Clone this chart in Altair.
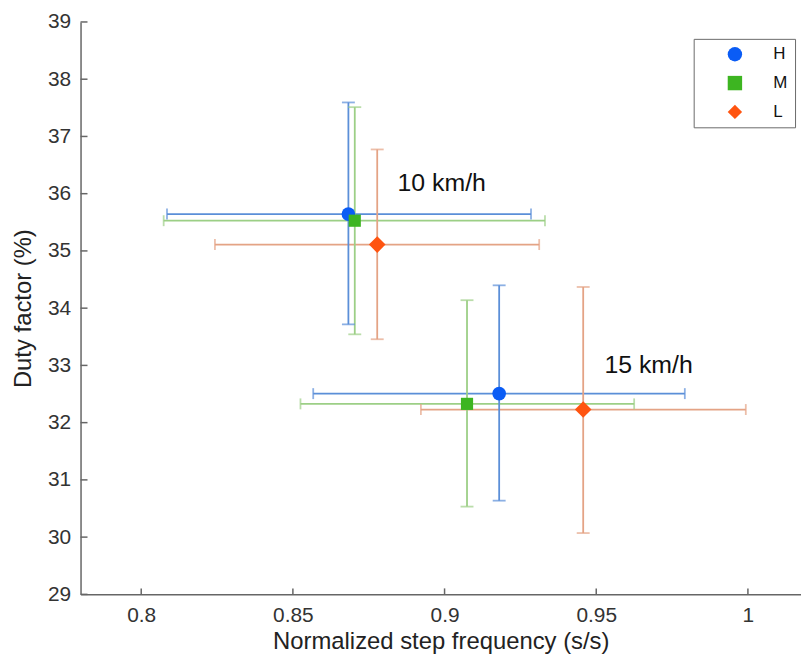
import altair as alt
import pandas as pd

# ---- data ----
groups = ["H", "M", "L", "H", "M", "L"]
x_mean = [0.8683, 0.8704, 0.8778, 0.9180, 0.9074, 0.9457]
x_low = [0.8085, 0.8074, 0.8243, 0.8567, 0.8525, 0.8922]
x_high = [0.9285, 0.9331, 0.9312, 0.9792, 0.9625, 0.9993]
y_mean = [35.644, 35.528, 35.111, 32.507, 32.328, 32.229]
y_low = [33.717, 33.543, 33.457, 30.637, 30.533, 30.071]
y_high = [37.594, 37.512, 36.773, 34.399, 34.139, 34.370]

group_order = ["H", "M", "L"]
marker_colors = ["#0a5cf5", "#3db521", "#ff5410"]
bar_colors = ["#5b8fd8", "#9ccf86", "#e4a385"]
shapes = ["circle", "square", "diamond"]
marker_sizes = [190, 150, 280]

annot_text = ["10 km/h", "15 km/h"]
annot_x = [0.8845, 0.9527]
annot_y = [36.19, 33.01]

x_ticks = [0.8, 0.85, 0.9, 0.95, 1.0]
y_ticks = [29, 30, 31, 32, 33, 34, 35, 36, 37, 38, 39]

# ---- tables ----
df = pd.DataFrame({
    "group": groups, "x": x_mean, "xlo": x_low, "xhi": x_high,
    "y": y_mean, "ylo": y_low, "yhi": y_high,
})
df["barcolor"] = df["group"].map(dict(zip(group_order, bar_colors)))
df["msize"] = df["group"].map(dict(zip(group_order, marker_sizes)))
ann = pd.DataFrame({"t": annot_text, "x": annot_x, "y": annot_y})
xt = pd.DataFrame({"v": x_ticks})
yt = pd.DataFrame({"v": y_ticks})

XT = "Normalized step frequency (s/s)"
YT = "Duty factor (%)"
xs = alt.Scale(domain=[0.78, 1.0175], nice=False, zero=False)
ys = alt.Scale(domain=[29, 39], nice=False, zero=False)

W, H = 725, 576

base = alt.Chart(df)

hbar = base.mark_rule(strokeWidth=1.8).encode(
    x=alt.X("xlo:Q", scale=xs, title=XT,
            axis=alt.Axis(values=x_ticks, format="~g")),
    x2="xhi:Q",
    y=alt.Y("y:Q", scale=ys, title=YT, axis=alt.Axis(values=y_ticks, format="d")),
    color=alt.Color("barcolor:N", scale=None),
)
vbar = base.mark_rule(strokeWidth=1.8).encode(
    x=alt.X("x:Q", scale=xs, title=XT),
    y=alt.Y("ylo:Q", scale=ys, title=YT),
    y2="yhi:Q",
    color=alt.Color("barcolor:N", scale=None),
)
cap_l = base.mark_tick(orient="vertical", size=11, thickness=1.8).encode(
    x=alt.X("xlo:Q", scale=xs, title=XT), y=alt.Y("y:Q", scale=ys, title=YT),
    color=alt.Color("barcolor:N", scale=None))
cap_r = base.mark_tick(orient="vertical", size=11, thickness=1.8).encode(
    x=alt.X("xhi:Q", scale=xs, title=XT), y=alt.Y("y:Q", scale=ys, title=YT),
    color=alt.Color("barcolor:N", scale=None))
cap_b = base.mark_tick(orient="horizontal", size=13, thickness=1.8).encode(
    x=alt.X("x:Q", scale=xs, title=XT), y=alt.Y("ylo:Q", scale=ys, title=YT),
    color=alt.Color("barcolor:N", scale=None))
cap_t = base.mark_tick(orient="horizontal", size=13, thickness=1.8).encode(
    x=alt.X("x:Q", scale=xs, title=XT), y=alt.Y("yhi:Q", scale=ys, title=YT),
    color=alt.Color("barcolor:N", scale=None))

legend = alt.Legend(
    title=None, orient="none", legendX=617, legendY=17,
    strokeColor="#6b6b6b", fillColor="white", padding=7,
    symbolOffset=26, labelOffset=30, rowPadding=11,
    labelFontSize=17, labelFont="Liberation Sans", labelColor="#111",
    symbolSize=210, symbolStrokeWidth=0, symbolOpacity=1, cornerRadius=0,
)
points = base.mark_point(filled=True, opacity=1).encode(
    x=alt.X("x:Q", scale=xs, title=XT),
    y=alt.Y("y:Q", scale=ys, title=YT),
    color=alt.Color("group:N", scale=alt.Scale(domain=group_order, range=marker_colors),
                    legend=legend, sort=group_order),
    shape=alt.Shape("group:N", scale=alt.Scale(domain=group_order, range=shapes),
                    legend=legend, sort=group_order),
    size=alt.Size("msize:Q", scale=None),
    opacity=alt.value(1),
)

texts = alt.Chart(ann).mark_text(
    align="left", baseline="middle", fontSize=25, font="Liberation Sans", color="#111"
).encode(
    x=alt.X("x:Q", scale=xs, title=XT), y=alt.Y("y:Q", scale=ys, title=YT), text="t:N")

# inward-pointing axis ticks
ytick_marks = alt.Chart(yt).mark_rule(color="#666", strokeWidth=1.5).encode(
    x=alt.value(0), x2=alt.value(7), y=alt.Y("v:Q", scale=ys, title=YT))
xtick_marks = alt.Chart(xt).mark_rule(color="#666", strokeWidth=1.5).encode(
    y=alt.value(H), y2=alt.value(H - 6), x=alt.X("v:Q", scale=xs, title=XT))

chart = alt.layer(
    hbar, vbar, cap_l, cap_r, cap_b, cap_t, points, texts, ytick_marks, xtick_marks
).properties(
    width=W, height=H,
    autosize=alt.AutoSizeParams(type="none"),
    padding={"left": 73, "top": 12, "right": 0, "bottom": 64},
).configure_view(stroke=None).configure_point(opacity=1).configure_legend(
    symbolOpacity=1
).configure_axis(
    grid=False, tickSize=0, domainColor="#666", domainWidth=1.5,
    labelFont="Liberation Sans", labelFontSize=21, labelColor="#333",
    titleFont="Liberation Sans", titleFontSize=24, titleFontWeight="normal",
    titleColor="#222",
).configure_axisX(labelPadding=10, titlePadding=4).configure_axisY(
    labelPadding=10, titlePadding=12)

chart.save("out.html", embed_options={"renderer": "svg", "actions": False})
